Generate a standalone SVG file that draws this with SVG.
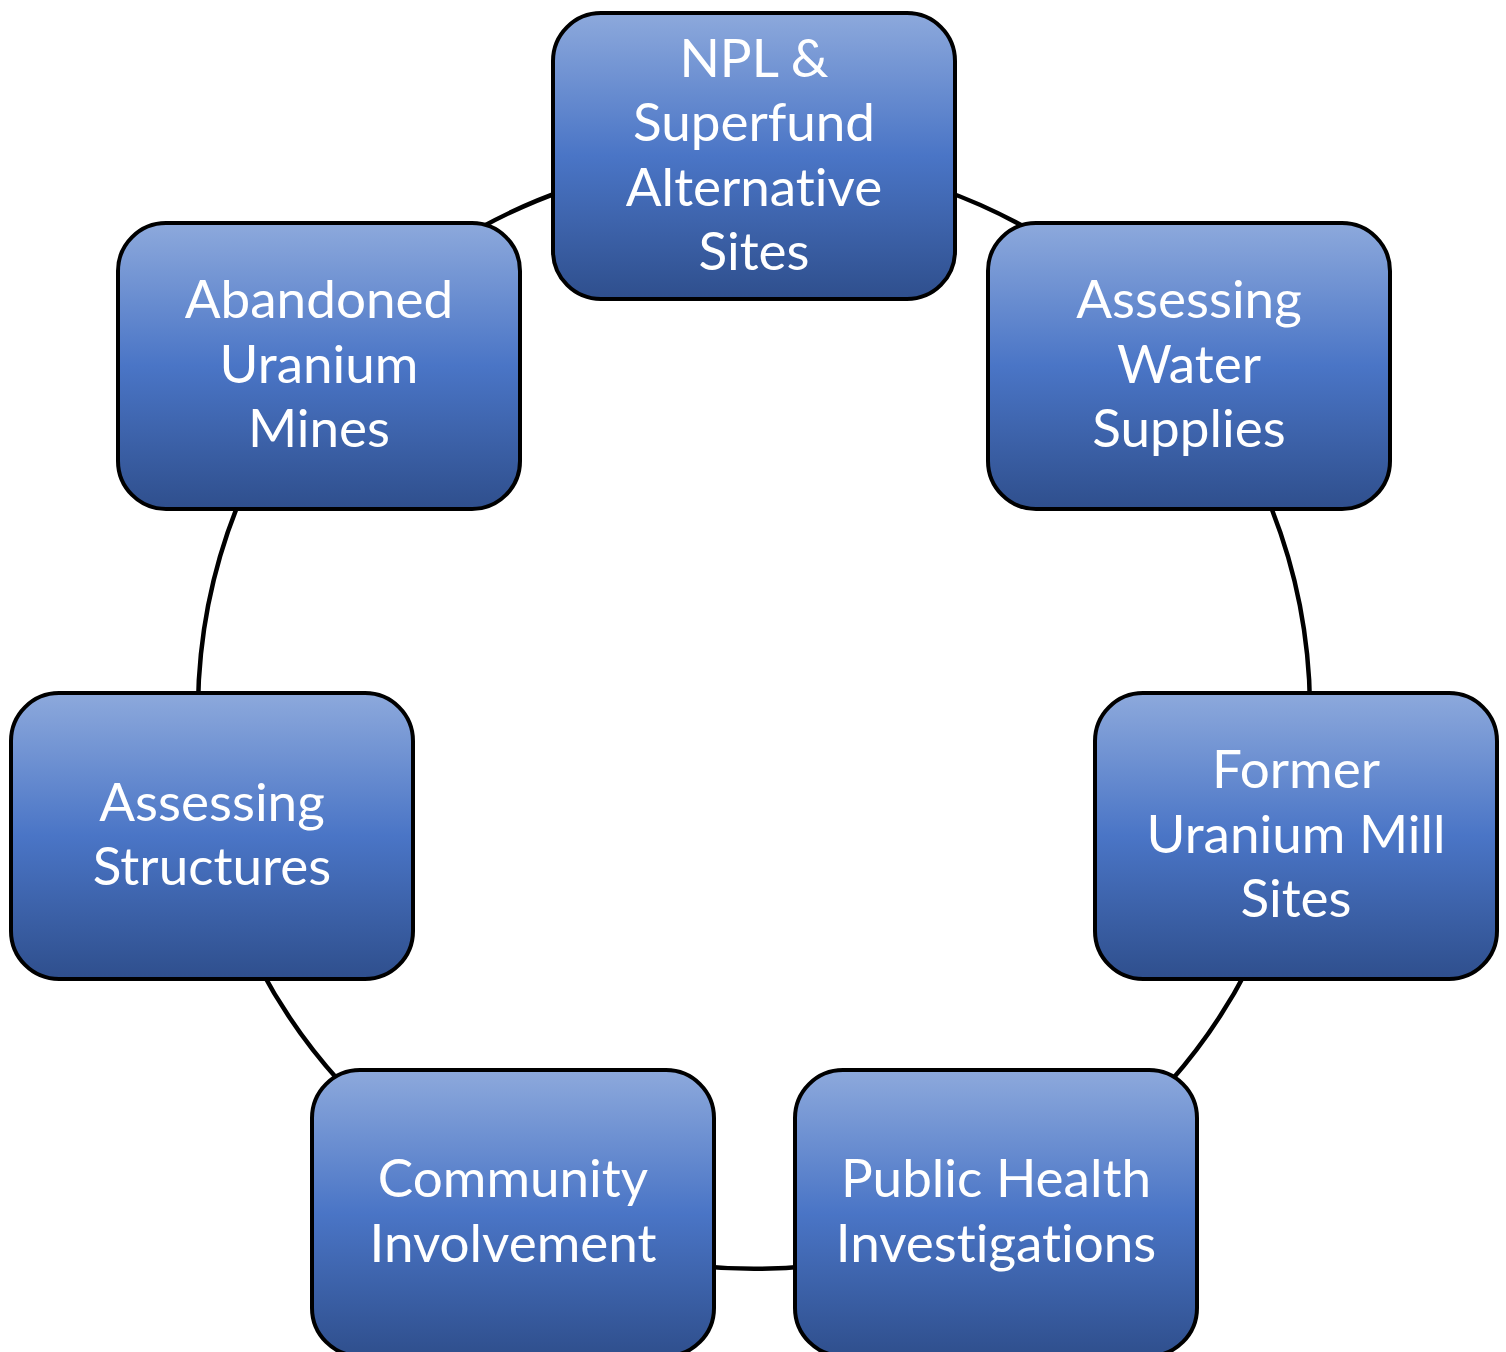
<svg xmlns="http://www.w3.org/2000/svg" width="1506" height="1352" viewBox="0 0 1506 1352">
<defs>
<linearGradient id="g" x1="0" y1="0" x2="0" y2="1">
<stop offset="0" stop-color="#8DA9DC"/>
<stop offset="0.5" stop-color="#4A75C6"/>
<stop offset="1" stop-color="#2F4F8D"/>
</linearGradient>
<style>
.box{fill:url(#g);stroke:#000;stroke-width:4}
.lbl{font-family:Lato,"Open Sans",sans-serif;font-size:53px;fill:#fff;text-anchor:middle;font-variant-ligatures:none;font-feature-settings:"liga" 0}
.con{fill:none;stroke:#000;stroke-width:4.5}
</style>
</defs>
<rect width="1506" height="1352" fill="#fff"/>
<g id="connectors">
<path class="con" d="M 940 189 A 556 556 0 0 1 1030 230"/>
<path class="con" d="M 1266 495 A 556 556 0 0 1 1310 705"/>
<path class="con" d="M 1248 968 A 556 556 0 0 1 1170 1082"/>
<path class="con" d="M 810 1266 A 556 556 0 0 1 698 1266"/>
<path class="con" d="M 340 1082 A 556 556 0 0 1 260 968"/>
<path class="con" d="M 198 705 A 556 556 0 0 1 242 495"/>
<path class="con" d="M 480 228 A 556 556 0 0 1 568 189"/>
</g>
<g id="n1"><rect class="box" x="553" y="13" width="402" height="286" rx="48"/>
<text class="lbl" x="754" y="77">NPL &amp;</text><text class="lbl" x="754" y="141">Superfund</text><text class="lbl" x="754" y="206">Alternative</text><text class="lbl" x="754" y="270">Sites</text></g>
<g id="n2"><rect class="box" x="988" y="223" width="402" height="286" rx="48"/>
<text class="lbl" x="1189" y="318">Assessing</text><text class="lbl" x="1189" y="383">Water</text><text class="lbl" x="1189" y="447">Supplies</text></g>
<g id="n3"><rect class="box" x="1095" y="693" width="402" height="286" rx="48"/>
<text class="lbl" x="1296" y="788">Former</text><text class="lbl" x="1296" y="853">Uranium Mill</text><text class="lbl" x="1296" y="917">Sites</text></g>
<g id="n4"><rect class="box" x="795" y="1070" width="402" height="286" rx="48"/>
<text class="lbl" x="996" y="1197">Public Health</text><text class="lbl" x="996" y="1262">Investigations</text></g>
<g id="n5"><rect class="box" x="312" y="1070" width="402" height="286" rx="48"/>
<text class="lbl" x="513" y="1197">Community</text><text class="lbl" x="513" y="1262">Involvement</text></g>
<g id="n6"><rect class="box" x="11" y="693" width="402" height="286" rx="48"/>
<text class="lbl" x="212" y="821">Assessing</text><text class="lbl" x="212" y="885">Structures</text></g>
<g id="n7"><rect class="box" x="118" y="223" width="402" height="286" rx="48"/>
<text class="lbl" x="319" y="318">Abandoned</text><text class="lbl" x="319" y="383">Uranium</text><text class="lbl" x="319" y="447">Mines</text></g>
</svg>
